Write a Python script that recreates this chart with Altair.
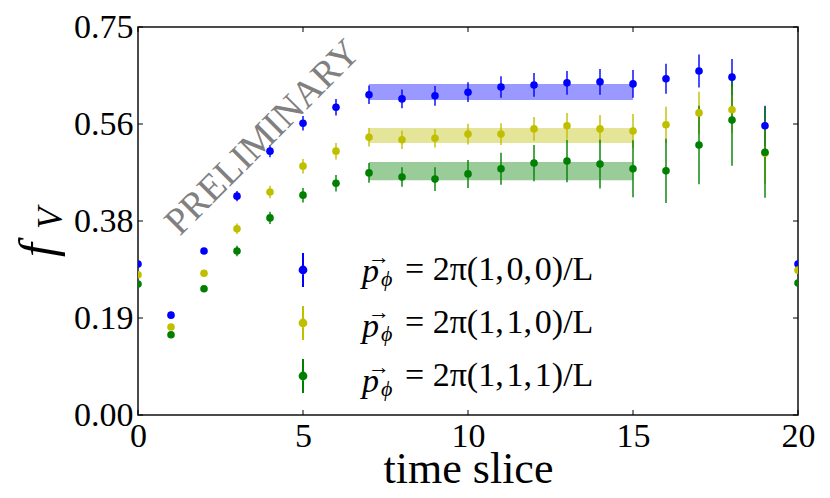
import altair as alt
import pandas as pd

# ---------------- data ----------------
t_slice = list(range(21))

# legend texts: "p⃗_ϕ" prefix is drawn as small text pieces, the rest is the legend label
label_prefix_p = "p"
label_prefix_arrow = "\u2192"
label_prefix_sub = "\u03d5"
series_labels = ["= 2\u03c0(1,\u200a0,\u200a0)/L",
                 "= 2\u03c0(1,\u200a1,\u200a0)/L",
                 "= 2\u03c0(1,\u200a1,\u200a1)/L"]
series_colors = ["#0000ff", "#bfbf00", "#008000"]

blue_val = [0.292, 0.193, 0.317, 0.423, 0.510, 0.564, 0.595, 0.619, 0.611, 0.617,
            0.624, 0.634, 0.638, 0.642, 0.644, 0.640, 0.650, 0.665, 0.653, 0.559, 0.292]
blue_err = [0.004, 0.004, 0.004, 0.010, 0.012, 0.014, 0.016, 0.018, 0.018, 0.019,
            0.019, 0.021, 0.023, 0.023, 0.025, 0.027, 0.029, 0.032, 0.035, 0.039, 0.004]

yellow_val = [0.271, 0.170, 0.274, 0.360, 0.431, 0.481, 0.510, 0.537, 0.532, 0.535,
              0.543, 0.543, 0.553, 0.559, 0.553, 0.549, 0.561, 0.584, 0.590, 0.506, 0.280]
yellow_err = [0.004, 0.004, 0.004, 0.010, 0.012, 0.014, 0.016, 0.018, 0.018, 0.018,
              0.020, 0.021, 0.023, 0.025, 0.027, 0.033, 0.035, 0.041, 0.045, 0.060, 0.004]

green_val = [0.253, 0.155, 0.244, 0.317, 0.381, 0.425, 0.448, 0.468, 0.460, 0.456,
             0.466, 0.476, 0.487, 0.491, 0.485, 0.476, 0.472, 0.522, 0.570, 0.508, 0.255]
green_err = [0.004, 0.004, 0.004, 0.010, 0.012, 0.014, 0.016, 0.019, 0.019, 0.023,
             0.027, 0.031, 0.035, 0.041, 0.047, 0.055, 0.062, 0.076, 0.088, 0.088, 0.004]

# fit bands (plateau fits between t=7 and t=15)
band_start = [7, 7, 7]
band_end = [15, 15, 15]
band_low = [0.609, 0.526, 0.454]
band_high = [0.640, 0.555, 0.489]

x_ticks = [0, 5, 10, 15, 20]
y_ticks = [0.0, 0.1875, 0.375, 0.5625, 0.75]

# ---------------- tables ----------------
rows = []
for k, (lab, vals, errs) in enumerate(zip(series_labels,
                                          [blue_val, yellow_val, green_val],
                                          [blue_err, yellow_err, green_err])):
    for t, v, e in zip(t_slice, vals, errs):
        rows.append({"series": lab, "k": k, "t": t, "v": v, "lo": v - e, "hi": v + e})
df = pd.DataFrame(rows)

bands = pd.DataFrame({"series": series_labels, "x0": band_start, "x1": band_end,
                      "lo": band_low, "hi": band_high})

W, H = 660, 388
FONT = "Liberation Serif"

xscale = alt.Scale(domain=[0, 20], nice=False, zero=False)
yscale = alt.Scale(domain=[0, 0.75], nice=False, zero=False)
cscale = alt.Scale(domain=series_labels, range=series_colors)

xaxis = alt.Axis(values=x_ticks, tickSize=0, domain=False, grid=False, labelFont=FONT,
                 labelFontSize=34, labelPadding=4, labelColor="black", title="time slice",
                 titleFont=FONT, titleFontSize=44, titleFontWeight="normal",
                 titleColor="black", titlePadding=-6, labelFlush=False)
yaxis = alt.Axis(values=y_ticks, format=".2f", tickSize=0, domain=False, grid=False,
                 labelFont=FONT, labelFontSize=34, labelPadding=5, labelColor="black",
                 title=None, labelFlush=False)

# legend symbol: vertical error bar with a dot (concentric rings make a filled dot)
sym_path = ("M0,-1L0,1"
            "M0.2,0A0.2,0.2,0,1,1,-0.2,0A0.2,0.2,0,1,1,0.2,0"
            "M0.12,0A0.12,0.12,0,1,1,-0.12,0A0.12,0.12,0,1,1,0.12,0"
            "M0.05,0A0.05,0.05,0,1,1,-0.05,0A0.05,0.05,0,1,1,0.05,0")
LEG_X, LEG_Y, ROW = 147, 225, 55
legend = alt.Legend(orient="none", legendX=LEG_X, legendY=LEG_Y, title=None,
                    symbolType=sym_path, symbolSize=1156, symbolStrokeWidth=2,
                    symbolOpacity=1,
                    labelFont=FONT, labelFontSize=34, labelColor="black",
                    labelBaseline="middle",
                    labelOffset=84, rowPadding=11, padding=0, labelLimit=500)

band_layer = alt.Chart(bands).mark_rect(opacity=0.4).encode(
    x=alt.X("x0:Q", scale=xscale, axis=xaxis),
    x2="x1:Q",
    y=alt.Y("lo:Q", scale=yscale, axis=yaxis),
    y2="hi:Q",
    color=alt.Color("series:N", scale=cscale, legend=None),
)

err_layer = alt.Chart(df).mark_rule(strokeWidth=2, opacity=0.7, clip=True).encode(
    x=alt.X("t:Q", scale=xscale),
    y=alt.Y("lo:Q", scale=yscale),
    y2="hi:Q",
    color=alt.Color("series:N", scale=cscale, legend=legend),
)

pt_layer = alt.Chart(df).mark_point(filled=True, size=58, opacity=1, clip=True).encode(
    x=alt.X("t:Q", scale=xscale),
    y=alt.Y("v:Q", scale=yscale),
    color=alt.Color("series:N", scale=cscale, legend=None),
    order=alt.Order("k:Q"),
)

# inward ticks on all four sides
xt = pd.DataFrame({"x": x_ticks})
yt = pd.DataFrame({"y": y_ticks})
TL = 5
tick_bottom = alt.Chart(xt).mark_rule(color="black", strokeWidth=1).encode(
    x=alt.X("x:Q", scale=xscale), y=alt.value(H - TL), y2=alt.value(H))
tick_top = alt.Chart(xt).mark_rule(color="black", strokeWidth=1).encode(
    x=alt.X("x:Q", scale=xscale), y=alt.value(0), y2=alt.value(TL))
tick_left = alt.Chart(yt).mark_rule(color="black", strokeWidth=1).encode(
    y=alt.Y("y:Q", scale=yscale), x=alt.value(0), x2=alt.value(TL))
tick_right = alt.Chart(yt).mark_rule(color="black", strokeWidth=1).encode(
    y=alt.Y("y:Q", scale=yscale), x=alt.value(W - TL), x2=alt.value(W))


def txt(s, x, y, size, italic=False, angle=0, align="left", baseline="alphabetic",
        color="black"):
    kw = dict(font=FONT, fontSize=size, angle=angle, align=align, baseline=baseline,
              color=color)
    if italic:
        kw["fontStyle"] = "italic"
    return alt.Chart(pd.DataFrame({"s": [s]})).mark_text(**kw).encode(
        text="s:N", x=alt.value(x), y=alt.value(y))


# y-axis title f_V
f_txt = txt("f", -84, 230, 50, italic=True, angle=270)
v_txt = txt("V", -76, 202, 35, italic=True, angle=270)

prelim = txt("PRELIMINARY", 125, 111, 38, angle=315, align="center", baseline="middle",
             color="#808080")

# legend label prefixes  p⃗_ϕ
prefix_layers = []
for i in range(len(series_labels)):
    base = 255 + ROW * i
    prefix_layers.append(txt(label_prefix_p, 224, base, 34, italic=True))
    prefix_layers.append(txt(label_prefix_arrow, 241, base - 25, 22, align="center",
                             baseline="middle"))
    prefix_layers.append(txt(label_prefix_sub, 243, base + 4, 22, italic=True))

chart = alt.layer(band_layer, err_layer, pt_layer, tick_bottom, tick_top, tick_left,
                  tick_right, f_txt, v_txt, prelim, *prefix_layers).resolve_legend(
    color="independent"
).properties(
    width=W, height=H,
    background="white",
    autosize=alt.AutoSizeParams(type="none"),
    padding={"left": 130, "top": 19, "right": 24, "bottom": 75},
).configure_view(stroke="#111", strokeWidth=1.5)

chart.save("out.html", embed_options={"renderer": "svg", "actions": False})
